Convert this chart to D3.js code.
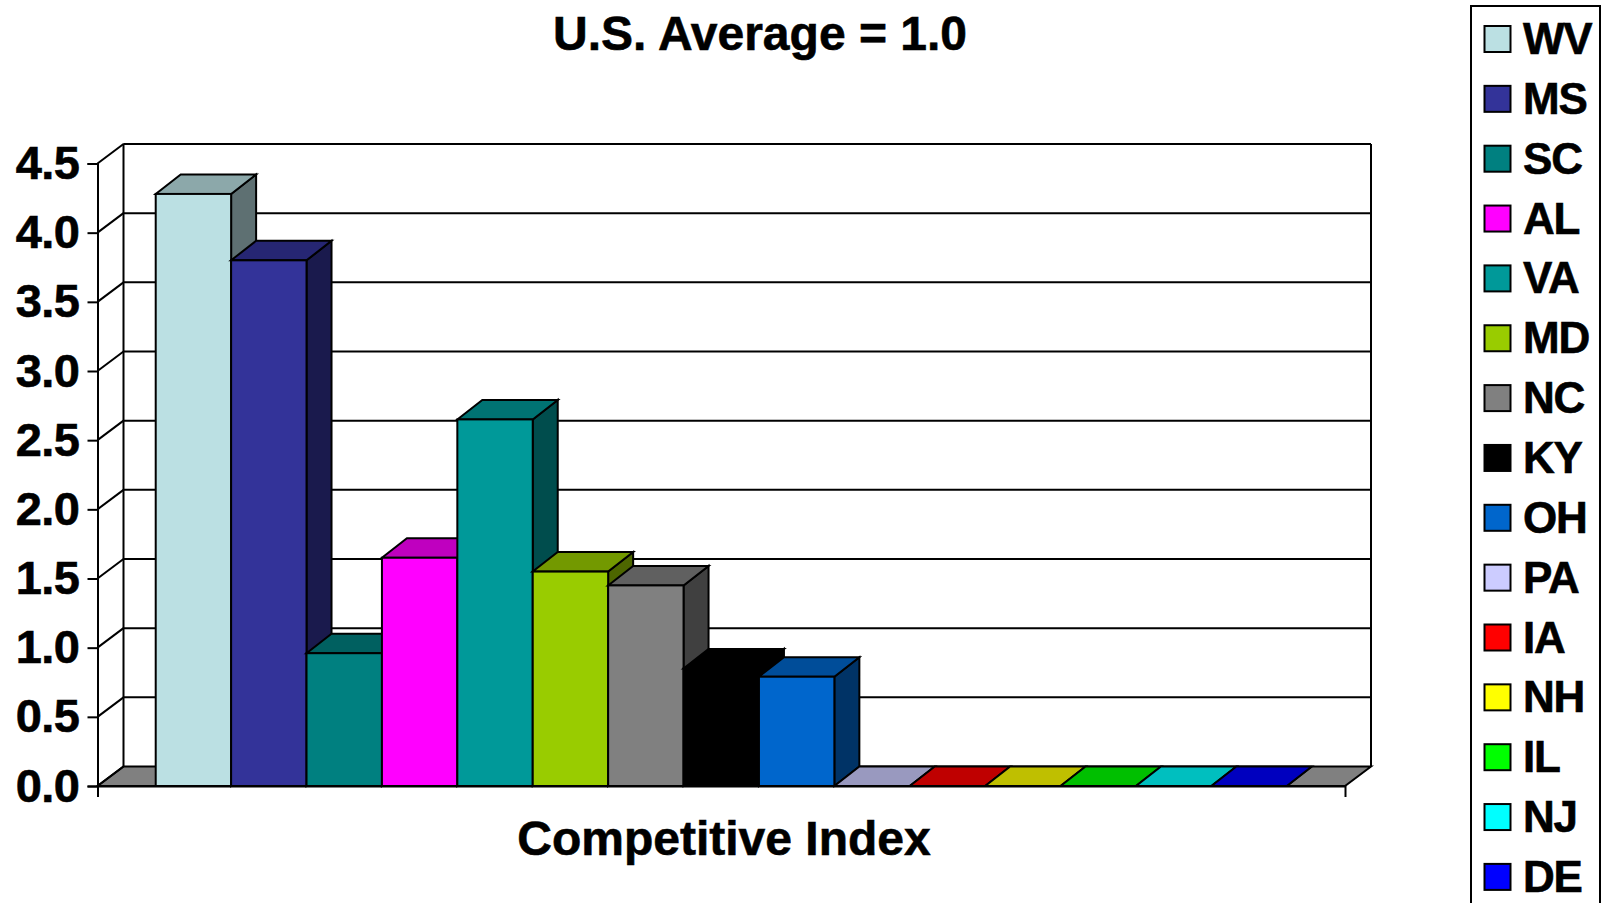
<!DOCTYPE html>
<html><head><meta charset="utf-8">
<style>html,body{margin:0;padding:0;background:#fff;overflow:hidden}svg{display:block}text{font-family:"Liberation Sans",Arial,sans-serif;font-weight:bold;fill:#000;stroke:#000;stroke-width:0.6px}</style>
<script src="https://d3js.org/d3.v7.min.js"></script></head><body><div id="c"></div>
<script>
const states=["WV","MS","SC","AL","VA","MD","NC","KY","OH","PA","IA","NH","IL","NJ","DE"];
const values=[4.28,3.80,0.96,1.65,2.65,1.55,1.45,0.85,0.79,0,0,0,0,0,0];
const colors=["#BBE0E3","#333399","#008080","#FF00FF","#009999","#99CC00","#808080","#000000","#0066CC","#CCCCFF","#FF0000","#FFFF00","#00FF00","#00FFFF","#0000FF"];
const yTicks=[0,0.5,1,1.5,2,2.5,3,3.5,4,4.5];
const W=1601,H=903,L=97.5,R=1345,B=786,T=163.5,DX=26,BDX=25,DY=19.5,SW=2;
const svg=d3.select("#c").append("svg").attr("width",W).attr("height",H);
const y=d3.scaleLinear().domain([0,4.5]).range([B,T]);
const x=d3.scaleBand().domain(states).range([L,R]).paddingInner(0).paddingOuter(0.772);
const bw=x.bandwidth();
const shade=(c,k)=>{const r=d3.rgb(c);return d3.rgb(r.r*k,r.g*k,r.b*k).formatHex()};
const pts=a=>a.map(p=>p.join(",")).join(" ");
const line=(x1,y1,x2,y2)=>svg.append("line").attr("x1",x1).attr("y1",y1).attr("x2",x2).attr("y2",y2).attr("stroke","#000").attr("stroke-width",SW);
// floor
svg.append("polygon").attr("points",pts([[L,B],[R,B],[R+DX,B-DY],[L+DX,B-DY]])).attr("fill","#808080").attr("stroke","#000").attr("stroke-width",SW);
// walls and gridlines
yTicks.forEach(v=>{
  if(v>0) line(L+DX,y(v)-DY,R+DX,y(v)-DY);
  line(L,y(v),L+DX,y(v)-DY);
});
line(L+DX,T-DY,L+DX,B-DY);
line(R+DX,T-DY,R+DX,B-DY);
line(L+DX,T-DY,R+DX,T-DY);
// y axis
const gy=svg.append("g").attr("transform",`translate(${L},0)`).call(d3.axisLeft(y).tickValues(yTicks).tickFormat(d3.format(".1f")).tickSize(10).tickPadding(8));
gy.selectAll("path,line").attr("stroke","#000").attr("stroke-width",SW);
gy.selectAll("text").attr("font-size",47).style("letter-spacing","-0.5px");
// bars
states.forEach((s,i)=>{
  const x0=x(s),x1=x0+bw,yt=y(values[i]),c=colors[i];
  const g=svg.append("g").attr("stroke","#000").attr("stroke-width",SW).attr("stroke-linejoin","miter");
  g.append("polygon").attr("points",pts([[x1,yt],[x1+BDX,yt-DY],[x1+BDX,B-DY],[x1,B]])).attr("fill",shade(c,0.5));
  g.append("polygon").attr("points",pts([[x0,yt],[x0+BDX,yt-DY],[x1+BDX,yt-DY],[x1,yt]])).attr("fill",shade(c,0.75));
  g.append("rect").attr("x",x0).attr("y",yt).attr("width",bw).attr("height",B-yt).attr("fill",c);
});
// x axis
const gx=svg.append("g").attr("transform",`translate(0,${B})`).call(d3.axisBottom(d3.scaleLinear().domain([0,1]).range([L,R])).tickValues([0,1]).tickFormat("").tickSize(11).tickSizeOuter(0));
gx.selectAll("path,line").attr("stroke","#000").attr("stroke-width",SW);
// titles
svg.append("text").attr("x",760).attr("y",50).attr("text-anchor","middle").attr("font-size",48).text("U.S. Average = 1.0");
svg.append("text").attr("x",724).attr("y",855).attr("text-anchor","middle").attr("font-size",48).text("Competitive Index");
// legend
svg.append("rect").attr("x",1471).attr("y",6).attr("width",129).attr("height",920).attr("fill","#fff").attr("stroke","#000").attr("stroke-width",SW);
const ly=d3.scalePoint().domain(states).range([39,39+14*59.85]);
states.forEach((s,i)=>{
  svg.append("rect").attr("x",1484.5).attr("y",ly(s)-13).attr("width",26).attr("height",26).attr("fill",colors[i]).attr("stroke","#000").attr("stroke-width",SW);
  svg.append("text").attr("x",1523).attr("y",ly(s)+15).attr("font-size",44).style("letter-spacing","-1.2px").text(s);
});
</script></body></html>
